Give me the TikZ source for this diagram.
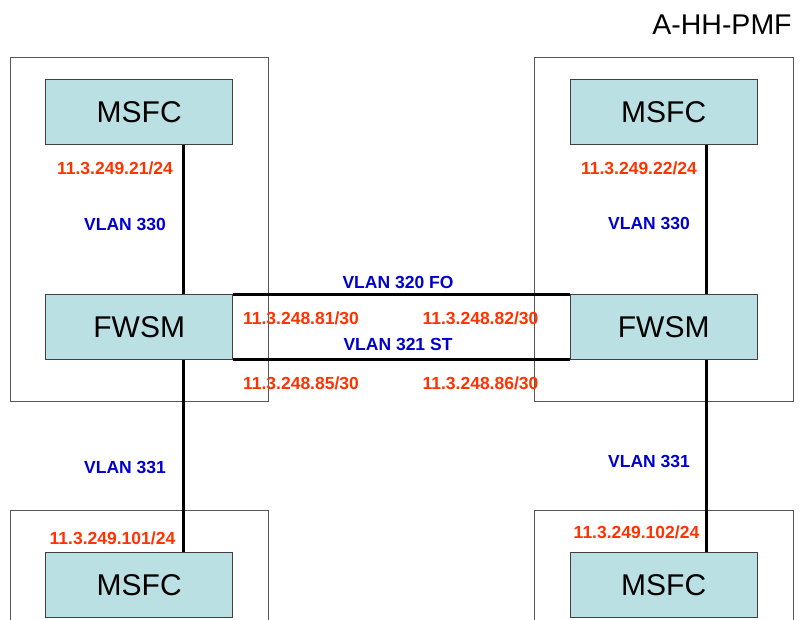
\documentclass[tikz,border=0pt]{standalone}
\usepackage{fontspec}
\setmainfont{Liberation Sans}
\definecolor{ipred}{HTML}{FF3300}
\definecolor{vlanblue}{HTML}{0000CC}
\definecolor{boxfill}{HTML}{BAE0E3}
\definecolor{framegray}{HTML}{555555}
\begin{document}
\begin{tikzpicture}[x=1pt,y=-1pt,
  frame/.style={draw=framegray,line width=1pt},
  device/.style={draw=black!75,line width=1pt,fill=boxfill,minimum width=187pt,
    minimum height=64.5pt,inner sep=0pt,font=\fontsize{30}{30}\selectfont},
  link/.style={line width=3pt,black},
  ip/.style={text=ipred,font=\fontsize{17.5}{17.5}\selectfont\bfseries,inner sep=0pt},
  vlan/.style={text=vlanblue,font=\fontsize{17.5}{17.5}\selectfont\bfseries,inner sep=0pt}]
\useasboundingbox (0,0) rectangle (801,620);
\clip (0,0) rectangle (801,620);
\fill[white] (0,0) rectangle (801,620);

% chassis frames
\draw[frame] (10,57.5) rectangle (268.5,402);
\draw[frame] (534.5,57.5) rectangle (793,402);
\draw[frame] (10,510) rectangle (268.5,640);
\draw[frame] (534.5,510) rectangle (793,640);

% title
\node[inner sep=0pt,font=\fontsize{28.5}{28.5}\selectfont] (title) at (722,25) {A-HH-PMF};

% devices
\node[device] (msfcL)  at (139.2,111.8) {MSFC};
\node[device] (fwsmL)  at (139.2,326.8) {FWSM};
\node[device] (msfcBL) at (139.2,585.2) {MSFC};
\node[device] (msfcR)  at (663.7,111.8) {MSFC};
\node[device] (fwsmR)  at (663.7,326.8) {FWSM};
\node[device] (msfcBR) at (663.7,585.2) {MSFC};

% links
\draw[link] (msfcL.south -| 183,0) -- (fwsmL.north -| 183,0);
\draw[link] (fwsmL.south -| 183,0) -- (msfcBL.north -| 183,0);
\draw[link] (msfcR.south -| 706,0) -- (fwsmR.north -| 706,0);
\draw[link] (fwsmR.south -| 706,0) -- (msfcBR.north -| 706,0);
\draw[link] (fwsmL.north east) -- (fwsmR.north west);
\draw[link] (fwsmL.south east) -- (fwsmR.south west);

% labels
\node[ip]   (ipL1)  at (115,168) {11.3.249.21/24};
\node[vlan] (vl330) at (125,224) {VLAN 330};
\node[ip]   (ipR1)  at (639,168) {11.3.249.22/24};
\node[vlan] (vr330) at (649,223) {VLAN 330};
\node[vlan] (v320)  at (398,282) {VLAN 320 FO};
\node[vlan] (v321)  at (398,344.5) {VLAN 321 ST};
\node[ip]   (ip81)  at (301,318) {11.3.248.81/30};
\node[ip]   (ip82)  at (480.5,318) {11.3.248.82/30};
\node[ip]   (ip85)  at (301,383) {11.3.248.85/30};
\node[ip]   (ip86)  at (480.5,383) {11.3.248.86/30};
\node[vlan] (vl331) at (125,467) {VLAN 331};
\node[vlan] (vr331) at (649,461) {VLAN 331};
\node[ip]   (ip101) at (112.5,538) {11.3.249.101/24};
\node[ip]   (ip102) at (636.5,532.5) {11.3.249.102/24};
\end{tikzpicture}
\end{document}
